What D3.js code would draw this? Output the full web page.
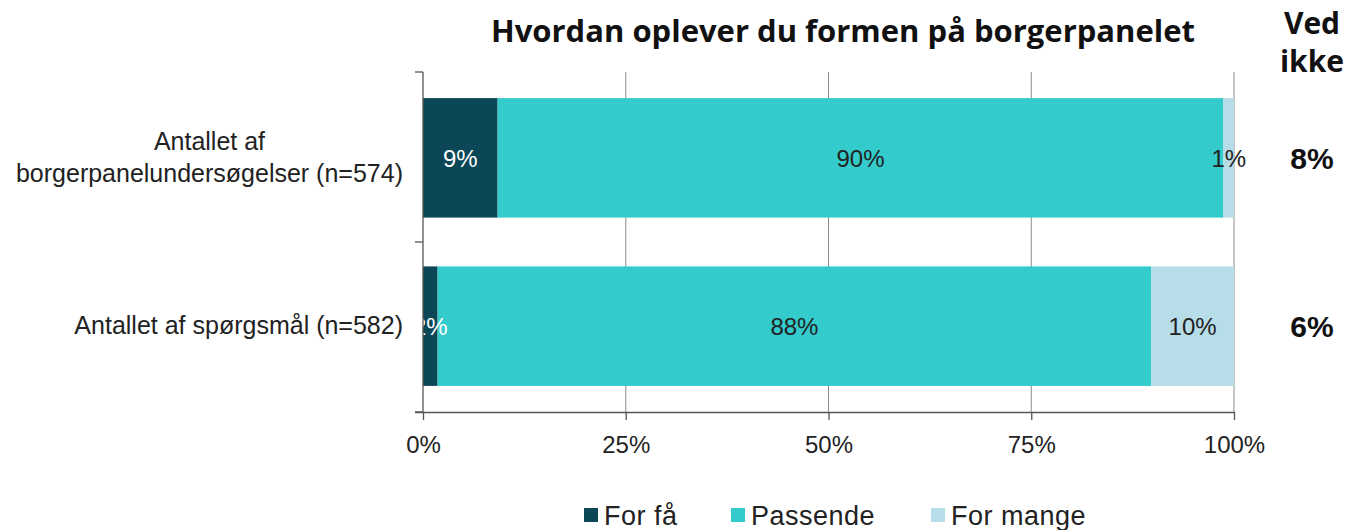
<!DOCTYPE html>
<html><head><meta charset="utf-8">
<script src="https://cdn.jsdelivr.net/npm/d3@7"></script>
<style>body{margin:0;background:#fff;} svg{display:block;}</style>
</head><body>
<script>
const categories = ["Antallet af borgerpanelundersøgelser (n=574)", "Antallet af spørgsmål (n=582)"];
const categoryLines = [["Antallet af", "borgerpanelundersøgelser (n=574)"], ["Antallet af spørgsmål (n=582)"]];
const seriesNames = ["For få", "Passende", "For mange"];
const forFaa = [9.2, 1.8];
const passende = [89.5, 88.0];
const forMange = [1.3, 10.2];
const labelsForFaa = ["9%", "2%"];
const labelsPassende = ["90%", "88%"];
const labelsForMange = ["1%", "10%"];
const vedIkke = ["8%", "6%"];
const xTicks = [0, 25, 50, 75, 100];
const colors = ["#0b4757", "#33cbcc", "#b7dde8"];
const labelColors = ["#ffffff", "#222222", "#222222"];

const W = 1345, H = 530;
const svg = d3.select("body").append("svg").attr("width", W).attr("height", H);
const font = "'Liberation Sans', Arial, sans-serif";

const x = d3.scaleLinear().domain([0, 100]).range([423, 1234]);
const y = d3.scaleBand().domain(categories).range([72, 412]).paddingInner(0.29).paddingOuter(0.155);

// gridlines
svg.append("g").selectAll("line").data(xTicks.slice(1)).join("line")
  .attr("x1", d => x(d)).attr("x2", d => x(d)).attr("y1", 72).attr("y2", 412)
  .attr("stroke", "#8c8c8c").attr("stroke-width", 1);

const stackData = categories.map((c, i) => ({cat: c, "For få": forFaa[i], "Passende": passende[i], "For mange": forMange[i], i}));
const stacked = d3.stack().keys(seriesNames)(stackData);
const labelArr = [labelsForFaa, labelsPassende, labelsForMange];

stacked.forEach((s, si) => {
  svg.append("g").selectAll("rect").data(s).join("rect")
    .attr("x", d => x(d[0])).attr("width", d => x(d[1]) - x(d[0]))
    .attr("y", d => y(d.data.cat)).attr("height", y.bandwidth())
    .attr("fill", colors[si]);
});
stacked.forEach((s, si) => {
  svg.append("g").selectAll("text").data(s).join("text")
    .attr("x", d => (x(d[0]) + x(d[1])) / 2)
    .attr("y", d => y(d.data.cat) + y.bandwidth() / 2 + 9)
    .attr("text-anchor", "middle")
    .attr("font-family", font).attr("font-size", 24)
    .attr("fill", labelColors[si])
    .text(d => labelArr[si][d.data.i]);
});

// y axis
const ya = svg.append("g");
ya.append("line").attr("x1", 423).attr("x2", 423).attr("y1", 72).attr("y2", 412).attr("stroke", "#555").attr("stroke-width", 1.3);
ya.selectAll("line.t").data([72, 242, 412]).join("line").attr("class", "t")
  .attr("x1", 415).attr("x2", 423).attr("y1", d => d).attr("y2", d => d).attr("stroke", "#555").attr("stroke-width", 1.3);

// x axis
const xa = svg.append("g").attr("transform", "translate(0,412)")
  .call(d3.axisBottom(x).tickValues(xTicks).tickFormat(d => d + "%").tickSize(8).tickPadding(16));
xa.select(".domain").attr("stroke", "#555").attr("stroke-width", 1.3).attr("d", "M415,0.5H1234");
xa.selectAll(".tick line").attr("stroke", "#555").attr("stroke-width", 1.3);
xa.selectAll(".tick text").attr("font-family", font).attr("font-size", 24).attr("fill", "#222");

// category labels
categories.forEach((c, i) => {
  const lines = categoryLines[i];
  const cy = y(c) + y.bandwidth() / 2;
  const t = svg.append("text").attr("text-anchor", "middle").attr("font-family", font).attr("font-size", 25).attr("fill", "#222");
  const lh = 32;
  const start = cy - (lines.length - 1) * lh / 2 + 8;
  lines.forEach((l, j) => t.append("tspan").attr("x", 0).attr("y", start + j * lh).text(l));
  const bb = t.node().getBBox();
  t.attr("transform", `translate(${403 - bb.width / 2},0)`);
});

// title
svg.append("text").attr("x", 843).attr("y", 42).attr("text-anchor", "middle")
  .attr("font-family", "'Open Sans', sans-serif").attr("font-weight", "bold").attr("font-size", 31).attr("fill", "#111")
  .text("Hvordan oplever du formen på borgerpanelet");

// Ved ikke
const vi = svg.append("text").attr("text-anchor", "middle").attr("font-family", "'Open Sans', sans-serif").attr("font-weight", "bold").attr("font-size", 30).attr("fill", "#111");
vi.append("tspan").attr("x", 1312).attr("y", 34).text("Ved");
vi.append("tspan").attr("x", 1312).attr("y", 72).text("ikke");
svg.append("g").selectAll("text").data(categories).join("text")
  .attr("x", 1312).attr("y", d => y(d) + y.bandwidth() / 2 + 11)
  .attr("text-anchor", "middle").attr("font-family", font).attr("font-weight", "bold").attr("font-size", 30).attr("fill", "#111")
  .text((d, i) => vedIkke[i]);

// legend
const legX = [584, 731, 931];
const lg = svg.append("g");
seriesNames.forEach((n, i) => {
  lg.append("rect").attr("x", legX[i]).attr("y", 508).attr("width", 14).attr("height", 14).attr("fill", colors[i]);
  lg.append("text").attr("x", legX[i] + 20).attr("y", 525).attr("font-family", font).attr("font-size", 27).attr("letter-spacing", 0.5).attr("fill", "#222").text(n);
});
</script>
</body></html>
